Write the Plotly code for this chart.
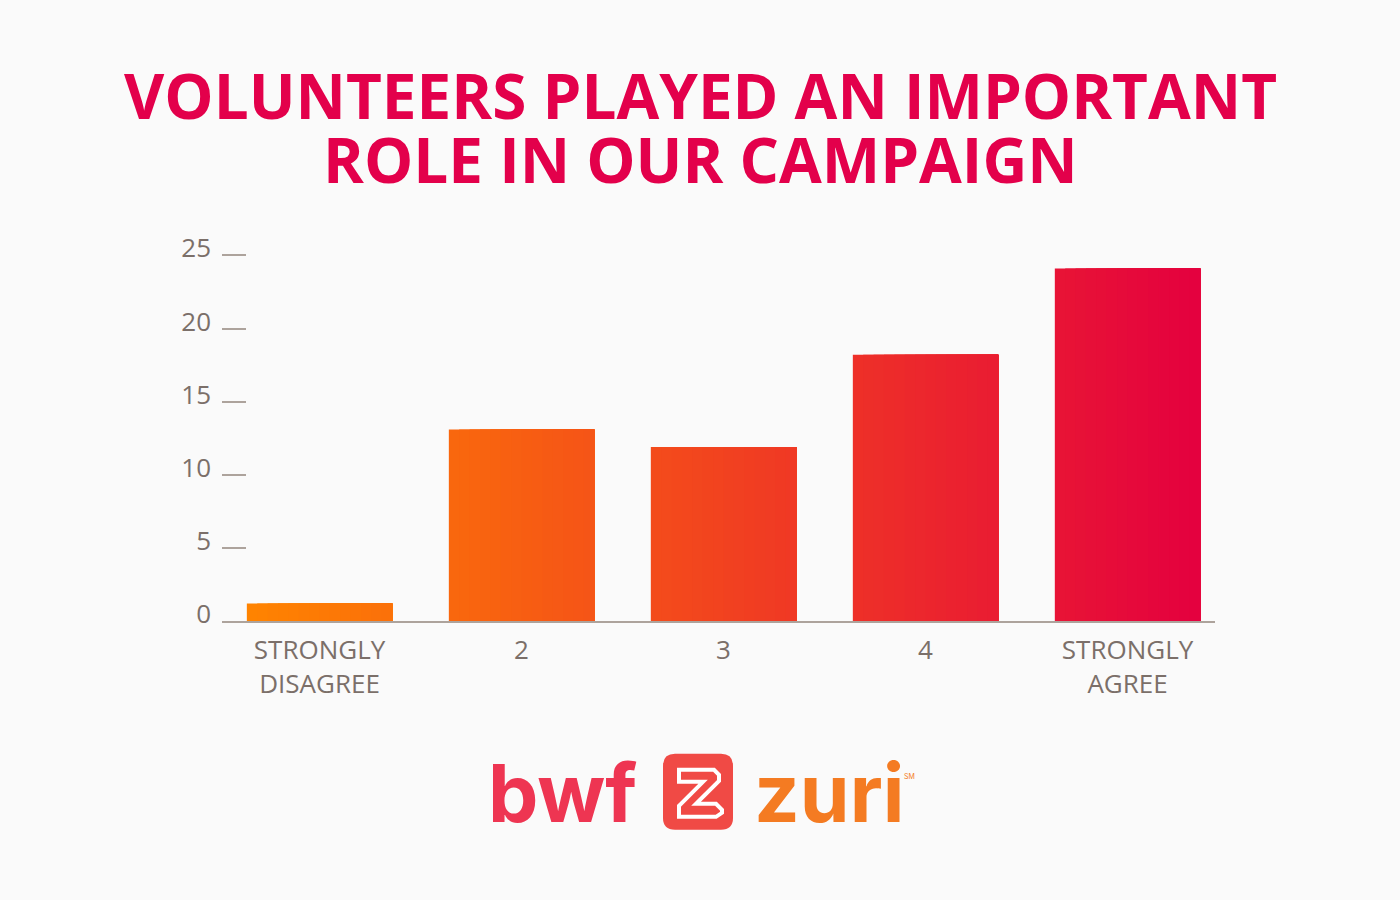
import plotly.graph_objects as go

# ---- data ----
categories = ["STRONGLY<br>DISAGREE", "2", "3", "4", "STRONGLY<br>AGREE"]
values = [1.2, 13.1, 11.9, 18.2, 24.1]
y_tickvals = [0, 5, 10, 15, 20, 25]
y_ticktext = ["0", "5", "10", "15", "20", "25"]
title_lines = ["VOLUNTEERS PLAYED AN IMPORTANT", "ROLE IN OUR CAMPAIGN"]

# ---- styling ----
BG = "#FAFAFA"
TXT = "#7B6F69"
AXIS = "#ADA39C"
TITLE_C = "#E3004B"
C_LEFT = (255, 132, 0)
C_RIGHT = (228, 0, 63)

Y_MAX = 25.3
L, R_EDGE, BOT = 222, 1215, 621
PX_PER_UNIT = (621 - 255) / 25
TOP = BOT - Y_MAX * PX_PER_UNIT
W, H = R_EDGE - L, BOT - TOP
X0, X1 = -0.483, 4.433
BAR_W = 0.72
N_STRIPS = 14


def mix(t):
    t = max(0.0, min(1.0, t))
    r, g, b = (round(C_LEFT[i] + (C_RIGHT[i] - C_LEFT[i]) * t) for i in range(3))
    return f"rgb({r},{g},{b})"


first_left = 0 - BAR_W / 2
last_right = (len(categories) - 1) + BAR_W / 2

fig = go.Figure()
for k in range(N_STRIPS):
    off = -BAR_W / 2 + k * BAR_W / N_STRIPS
    width = BAR_W - k * BAR_W / N_STRIPS
    cols = []
    for i in range(len(categories)):
        xc = i + off + BAR_W / N_STRIPS / 2
        cols.append(mix((xc - first_left) / (last_right - first_left)))
    fig.add_trace(go.Bar(
        x=list(range(len(categories))), y=values,
        offset=off, width=width,
        marker=dict(color=cols, line=dict(width=0)),
        hoverinfo="skip", showlegend=False,
    ))


def px(xp):
    return (xp - L) / W


def py(yp):
    return (BOT - yp) / H


# title lines
for line, yc in zip(title_lines, [94, 159]):
    fig.add_annotation(x=0.5 * (px(0) + px(1400)), y=py(yc), xref="paper", yref="paper",
                       text=f"<b>{line}</b>", showarrow=False, xanchor="center", yanchor="middle",
                       height=60, valign="middle",
                       font=dict(family="Open Sans", size=62, color=TITLE_C))

# logo text
fig.add_annotation(x=px(486), y=py(793), xref="paper", yref="paper",
                   text="<b>bwf</b>", showarrow=False, xanchor="left", yanchor="middle",
                   font=dict(family="Inter", size=80, color="#EE3552"))
fig.add_annotation(x=px(752), y=py(793), xref="paper", yref="paper",
                   text="<b>zuri</b>", showarrow=False, xanchor="left", yanchor="middle",
                   font=dict(family="Inter", size=80, color="#F47B22"))
fig.add_annotation(x=px(902), y=py(777), xref="paper", yref="paper",
                   text="SM", showarrow=False, xanchor="left", yanchor="middle",
                   font=dict(family="Inter", size=7, color="#F47B22"))


# logo icon
def rrect(x0, y0, x1, y1, r):
    X = lambda v: px(v)
    Y = lambda v: py(v)
    return (f"M {X(x0+r)} {Y(y0)} L {X(x1-r)} {Y(y0)} Q {X(x1)} {Y(y0)} {X(x1)} {Y(y0+r)} "
            f"L {X(x1)} {Y(y1-r)} Q {X(x1)} {Y(y1)} {X(x1-r)} {Y(y1)} "
            f"L {X(x0+r)} {Y(y1)} Q {X(x0)} {Y(y1)} {X(x0)} {Y(y1-r)} "
            f"L {X(x0)} {Y(y0+r)} Q {X(x0)} {Y(y0)} {X(x0+r)} {Y(y0)} Z")


fig.add_shape(type="path", xref="paper", yref="paper", path=rrect(663, 754, 733, 830, 12),
              fillcolor="#F04A45", line=dict(width=0), layer="above")
zpts = [(679, 770), (714, 770), (719, 775), (719, 781), (696, 804), (716, 804), (722, 810),
        (722, 813), (716, 817), (679, 817), (679, 806), (703, 782), (679, 782)]
zpath = "M " + " L ".join(f"{px(a)} {py(b)}" for a, b in zpts) + " Z"
fig.add_shape(type="path", xref="paper", yref="paper", path=zpath,
              fillcolor="#F04A45", line=dict(width=4, color="white"), layer="above")

fig.update_layout(
    width=1400, height=900,
    paper_bgcolor=BG, plot_bgcolor=BG,
    barmode="overlay",
    margin=dict(l=L, r=1400 - R_EDGE, t=TOP, b=900 - BOT, autoexpand=False),
    xaxis=dict(range=[X0, X1], tickmode="array", tickvals=list(range(len(categories))),
               ticktext=categories, showgrid=False, zeroline=False,
               showline=True, linecolor=AXIS, linewidth=2, ticks="",
               tickfont=dict(family="Open Sans", size=26, color=TXT),
               ticklabelstandoff=5, fixedrange=True),
    yaxis=dict(range=[0, Y_MAX], tickmode="array", tickvals=y_tickvals, ticktext=y_ticktext,
               showgrid=False, zeroline=False, showline=False,
               ticks="inside", ticklen=24, tickwidth=2, tickcolor=AXIS,
               tickfont=dict(family="Open Sans", size=26, color=TXT),
               ticklabelstandoff=10, ticklabelshift=-7, fixedrange=True),
)

fig.write_html("out.html", config={"displayModeBar": False},
               post_script="document.body.style.margin='0';document.body.style.background='#FAFAFA';")
